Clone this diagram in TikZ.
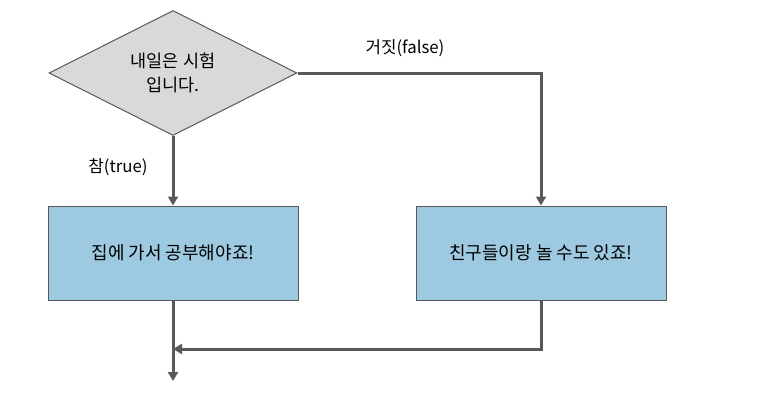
\documentclass[tikz,border=0pt]{standalone}
\usepackage{fontspec}
\setmainfont{Noto Sans CJK KR}
\usetikzlibrary{shapes.geometric,arrows.meta}
\definecolor{linegray}{HTML}{595959}
\definecolor{boxblue}{HTML}{9DCAE0}
\definecolor{diagray}{HTML}{D9D9D9}
\begin{document}
\begin{tikzpicture}[x=1pt,y=-1pt,
  conn/.style={draw=linegray,line width=3pt,-{Triangle[length=9pt,width=10pt]}},
  procbox/.style={draw=linegray,line width=1pt,fill=boxblue,minimum width=250pt,minimum height=94pt,inner sep=0pt,font=\fontsize{18}{20}\selectfont},
  decision/.style={draw=linegray,line width=1pt,fill=diagray,diamond,minimum width=248pt,minimum height=125pt,inner sep=0pt,aspect=2,align=center,font=\fontsize{17.5}{24}\selectfont},
  lbl/.style={font=\fontsize{16.8}{19}\selectfont,inner sep=0pt}]
\useasboundingbox (0,0) rectangle (763,415);
\node[decision] (d) at (173,73) {내일은 시험\\입니다.};
\node[procbox] (a) at (173,253) {집에 가서 공부해야죠!};
\node[procbox] (b) at (541,253) {친구들이랑 놀 수도 있죠!};
\coordinate (end) at (173,381);
\coordinate (join) at (173,349);
\draw[conn] (d.south) -- (a.north);
\draw[conn] (d.east) -| (b.north);
\draw[conn] (a.south) -- (end);
\draw[conn] (b.south) |- (join);
\node[lbl] (t) at (118,167) {참(true)};
\node[lbl] (f) at (405,48) {거짓(false)};
\end{tikzpicture}
\end{document}
